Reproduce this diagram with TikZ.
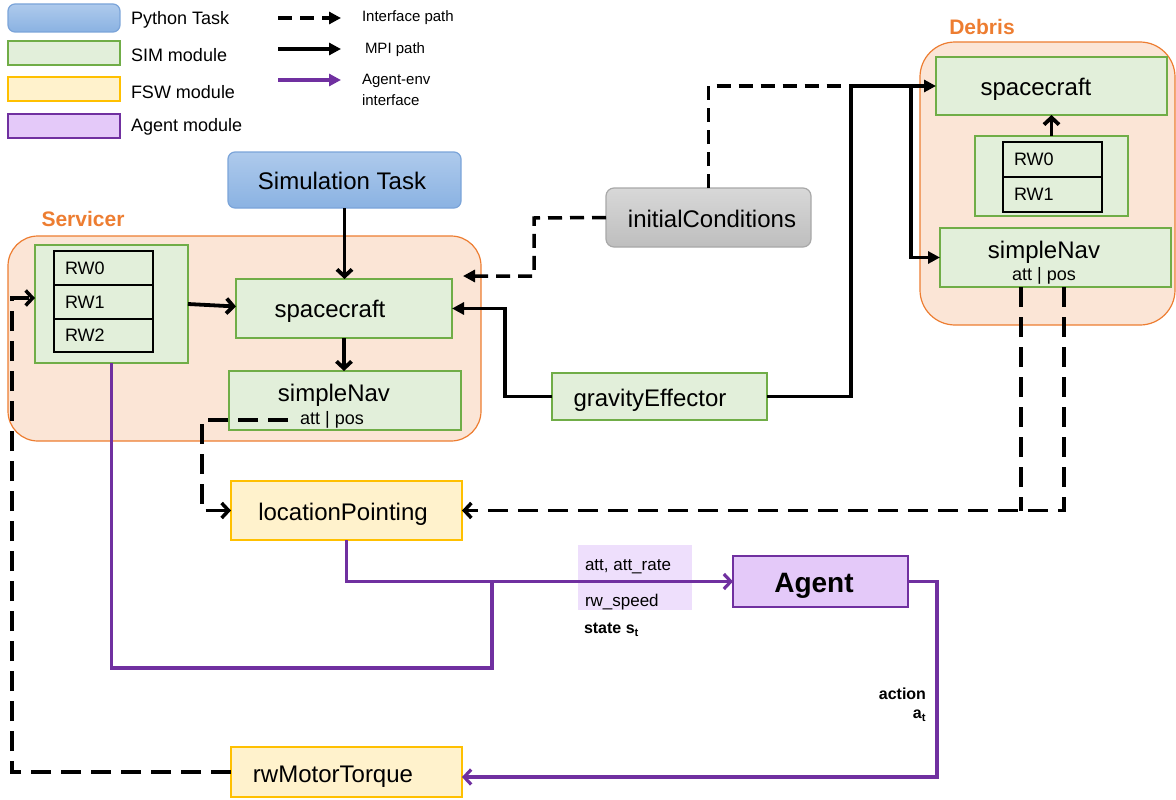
\documentclass[tikz,border=0pt]{standalone}
\usepackage{fontspec}
\setmainfont{Liberation Sans}
\usetikzlibrary{arrows.meta}
\definecolor{simfill}{HTML}{E2EFDA}
\definecolor{simdraw}{HTML}{70AD47}
\definecolor{fswfill}{HTML}{FFF2CC}
\definecolor{fswdraw}{HTML}{FFC000}
\definecolor{agfill}{HTML}{E4C9F9}
\definecolor{agdraw}{HTML}{7030A0}
\definecolor{pytop}{HTML}{AECAEC}
\definecolor{pybot}{HTML}{8AB2E2}
\definecolor{pydraw}{HTML}{7BA4D9}
\definecolor{grtop}{HTML}{D8D8D8}
\definecolor{grbot}{HTML}{BEBEBE}
\definecolor{grdraw}{HTML}{A8A8A8}
\definecolor{scfill}{HTML}{FBE5D6}
\definecolor{scdraw}{HTML}{ED7D31}
\definecolor{stfill}{HTML}{EEDFFC}
\definecolor{purp}{HTML}{7030A0}

\newcommand{\fs}[1]{\fontsize{#1}{#1}\selectfont}

\begin{document}
\begin{tikzpicture}[x=1pt,y=-1pt,
  every node/.style={inner sep=0pt, outer sep=0pt},
  pybox/.style={draw=pydraw, line width=1.2pt, top color=pytop, bottom color=pybot, rounded corners=7pt},
  grbox/.style={draw=grdraw, line width=1.2pt, top color=grtop, bottom color=grbot, rounded corners=8pt},
  simbox/.style={draw=simdraw, fill=simfill, line width=1.5pt},
  fswbox/.style={draw=fswdraw, fill=fswfill, line width=1.5pt},
  agbox/.style={draw=agdraw, fill=agfill, line width=1.5pt},
  rwcell/.style={draw=black, fill=simfill, line width=1.2pt, text width=77pt, inner xsep=11pt, align=left, font=\fs{18}},
  sat/.style={draw=scdraw, fill=scfill, line width=1.2pt},
  big/.style={font=\fs{24}},
  small/.style={font=\fs{18}},
  leg/.style={font=\fs{15}, anchor=west},
  mpi/.style={draw=black, line width=3.8pt},
  iface/.style={draw=black, line width=3.5pt, dash pattern=on 20pt off 10pt},
  shortdash/.style={dash pattern=on 14pt off 8pt},
  agl/.style={draw=purp, line width=3.2pt},
  tri/.style={-{Triangle[length=12pt,width=12pt]}},
  barb/.style={-{Straight Barb[length=7pt,width=15pt]}},
]
\useasboundingbox (0,0) rectangle (1176,800);

% ---------- legend ----------
\node[pybox, minimum width=112pt, minimum height=28pt] (lpy) at (64,18) {};
\node[simbox, minimum width=112pt, minimum height=24pt] (lsim) at (64,53) {};
\node[fswbox, minimum width=112pt, minimum height=24pt] (lfsw) at (64,89) {};
\node[agbox, minimum width=112pt, minimum height=24pt] (lag) at (64,126) {};
\node[font=\fs{18}, anchor=west] (tpy) at (131,20) {Python Task};
\node[font=\fs{18}, anchor=west] (tsim) at (131,55) {SIM module};
\node[font=\fs{18}, anchor=west] (tfsw) at (131,92) {FSW module};
\node[font=\fs{18}, anchor=west] (tag) at (131,127) {Agent module};

\coordinate (la1) at (278,18);  \coordinate (lb1) at (341,18);
\coordinate (la2) at (278,49);  \coordinate (lb2) at (341,49);
\coordinate (la3) at (278,80);  \coordinate (lb3) at (341,80);
\draw[iface, shortdash, tri] (la1) -- (lb1);
\draw[mpi, tri] (la2) -- (lb2);
\draw[agl, tri] (la3) -- (lb3);
\node[leg] (tif) at (362,18) {Interface path};
\node[leg] (tmpi) at (365,50) {MPI path};
\node[leg] (tae1) at (362,81) {Agent-env};
\node[leg] (tae2) at (362,100) {interface};

% ---------- containers ----------
\node[sat, rounded corners=30pt, minimum width=473pt, minimum height=205pt] (servicer) at (244.5,338.5) {};
\node[font=\fs{21}\bfseries, text=scdraw] (tserv) at (83,219) {Servicer};
\node[sat, rounded corners=35pt, minimum width=255pt, minimum height=283pt] (debris) at (1047.5,183.5) {};
\node[font=\fs{21}\bfseries, text=scdraw] (tdeb) at (982,27) {Debris};

% ---------- boxes ----------
\node[pybox, minimum width=233pt, minimum height=56pt] (simtask) at (344.5,180) {};
\node[grbox, minimum width=205pt, minimum height=59pt] (initc) at (708.5,217.5) {};

\node[simbox, minimum width=153pt, minimum height=118pt] (rwgS) at (111.5,304) {};
\node[rwcell, minimum height=34pt] (rw0S) at (103.5,268) {RW0};
\node[rwcell, minimum height=34pt] (rw1S) at (103.5,302) {RW1};
\node[rwcell, minimum height=33pt] (rw2S) at (103.5,335.5) {RW2};
\node[simbox, minimum width=216pt, minimum height=59pt] (scS) at (344,308.5) {};
\node[simbox, minimum width=232pt, minimum height=59pt] (snS) at (345,400.5) {};
\node[simbox, minimum width=215pt, minimum height=47pt] (grav) at (659.5,396.5) {};

\node[simbox, minimum width=231pt, minimum height=58pt] (scD) at (1051.5,86) {};
\node[simbox, minimum width=153pt, minimum height=80pt] (rwgD) at (1051.5,176) {};
\node[rwcell, minimum height=35pt] (rw0D) at (1052.5,159.5) {RW0};
\node[rwcell, minimum height=35pt] (rw1D) at (1052.5,194.5) {RW1};
\node[simbox, minimum width=231pt, minimum height=59pt] (snD) at (1055.5,257.5) {};

\node[fswbox, minimum width=231pt, minimum height=59pt] (locp) at (346.5,510.5) {};
\node[fswbox, minimum width=231pt, minimum height=50pt] (rwmt) at (346.5,772) {};
\node[agbox, minimum width=175pt, minimum height=51pt] (agent) at (820.5,581.5) {};
\node[fill=stfill, minimum width=114pt, minimum height=65pt] (stbox) at (635,577.5) {};

% ---------- connectors: MPI paths ----------
\draw[mpi, barb] (simtask.south) -- (scS.north -| simtask.south);
\draw[mpi, barb] (scS.south) -- (scS.south |- snS.north);
\draw[mpi, barb] (rwgS.east) -- ([yshift=2pt]scS.west);
\coordinate (gvbend) at (505,396.5);
\draw[mpi, tri] (grav.west) -- (gvbend) |- (scS.east);
\coordinate (jn) at (851,86);
\coordinate (jn2) at (911,86);
\draw[mpi, tri] (grav.east) -| (jn) -- (scD.west);
\draw[mpi, tri] (jn2) |- (snD.west);
\draw[mpi, barb] (rwgD.north) -- (rwgD.north |- scD.south);

% ---------- connectors: interface paths ----------
\coordinate (icbend) at (534,218);
\coordinate (icend) at (463,276);
\draw[iface, shortdash, tri] (initc.west) -- (icbend) |- (icend);
\draw[iface, shortdash] (initc.north) |- ([xshift=-8pt]jn);
\coordinate (snSout) at (288,420);
\coordinate (snSbend) at (202,420);
\draw[iface, barb] (snSout) -- (snSbend) |- (locp.west);
\coordinate (dnA) at (1021,287);
\coordinate (dnB) at (1064,287);
\draw[iface] (dnA) -- (dnA |- locp.east);
\draw[iface, barb] (dnB) |- (locp.east);
\coordinate (rwbend) at (12,772);
\coordinate (rwin) at (35,298);
\draw[iface, barb] (rwmt.west) -- (rwbend) |- (rwin);

% ---------- connectors: agent-environment interface ----------
\draw[agl, barb] (locp.south) |- (agent.west);
\coordinate (pcorner) at (492,668);
\coordinate (pjoin) at (492,581.5);
\draw[agl] (rwgS.south) |- (pcorner) -- (pjoin);
\coordinate (aout) at (937,777);
\draw[agl, barb] (agent.east) -| (aout) -- (rwmt.east |- aout);

% ---------- labels ----------
\node[big] (lsimtask) at (342,181) {Simulation Task};
\node[big] (linitc) at (712,219) {initialConditions};
\node[big] (lscS) at (330,311) {spacecraft};
\node[big] (lsnS) at (334,395) {simpleNav};
\node[small] (lsnSa) at (332,420) {att | pos};
\node[big] (lgrav) at (650,400) {gravityEffector};
\node[big] (lscD) at (1036,89) {spacecraft};
\node[big] (lsnD) at (1044,252) {simpleNav};
\node[small] (lsnDa) at (1044,276) {att | pos};
\node[big] (llocp) at (343,514) {locationPointing};
\node[big] (lrwmt) at (333,777) {rwMotorTorque};
\node[font=\fs{28}\bfseries] (lagent) at (814,586) {Agent};
\node[font=\fs{17}, anchor=west] (lst1) at (585,567) {att, att\_rate};
\node[font=\fs{17}, anchor=west] (lst2) at (585,602) {rw\_speed};
\node[font=\fs{16}\bfseries, anchor=west] (lstate) at (584,630) {state s\textsubscript{t}};
\node[font=\fs{16}\bfseries, anchor=east] (lact) at (926,694) {action};
\node[font=\fs{16}\bfseries, anchor=east] (lat) at (926,716) {a\textsubscript{t}};
\end{tikzpicture}
\end{document}
